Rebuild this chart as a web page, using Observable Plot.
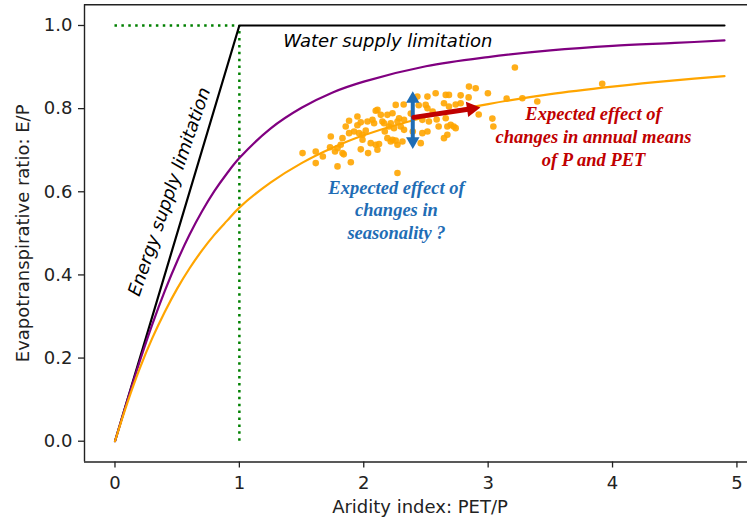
<!DOCTYPE html>
<html>
<head>
<meta charset="utf-8">
<script src="https://cdn.jsdelivr.net/npm/d3@7"></script>
<script src="https://cdn.jsdelivr.net/npm/@observablehq/plot@0.6"></script>
<style>
  html, body { margin: 0; padding: 0; background: #fff; }
</style>
</head>
<body>
<div id="chart"></div>
<script>
// Axis ticks
const xTicks = [0, 1, 2, 3, 4, 5];
const yTicks = [0, 0.2, 0.4, 0.6, 0.8, 1.0];

// Budyko-type curves E/P as a function of aridity index PET/P
const aridity  = [0, 0.1, 0.2, 0.3, 0.4, 0.5, 0.6, 0.7, 0.8, 0.9, 1.0, 1.25, 1.5, 1.75, 2.0, 2.5, 3.0, 3.5, 4.0, 4.5, 4.9];
const curveUpper = [0, 0.099, 0.193, 0.281, 0.361, 0.433, 0.497, 0.553, 0.602, 0.644, 0.681, 0.752, 0.802, 0.839, 0.865, 0.902, 0.924, 0.940, 0.951, 0.958, 0.964];
const curveLower = [0, 0.093, 0.176, 0.248, 0.311, 0.367, 0.416, 0.459, 0.497, 0.530, 0.562, 0.622, 0.669, 0.706, 0.736, 0.780, 0.811, 0.835, 0.853, 0.868, 0.878];

// Energy and water supply limits
const limitX = [0, 1, 4.9];
const limitY = [0, 1, 1];

// Catchments (aridity index, evaporative ratio)
const catchX = [1.508, 1.614, 1.614, 1.729, 1.769, 1.789, 1.815, 1.829, 1.839, 1.789, 1.896,
  1.829, 1.882, 1.882, 1.949, 1.922, 1.962, 1.990, 2.016, 1.990,
  2.030, 2.070, 2.083, 2.096, 2.137, 2.150, 2.163,
  2.056, 2.096, 2.123, 2.110, 2.035,
  2.257, 2.321, 2.431, 2.512, 2.578, 2.659, 2.685, 2.846, 2.900,
  2.498, 2.512, 2.645, 2.685, 2.779,
  2.190, 2.231, 2.284, 2.324,
  2.471, 2.524, 2.659, 2.699, 2.739,
  2.203, 2.243, 2.297, 2.324,
  2.471, 2.512, 2.672, 2.645,
  2.231, 2.271, 2.311, 2.458,
  2.271,
  3.215, 2.998, 3.149, 3.275, 3.395, 3.917,
  2.924, 3.034, 3.042,
  2.779, 2.672, 2.723,
  2.190, 2.217, 2.257,
  2.110, 2.217, 2.271,
  1.949, 1.855, 1.735, 1.976, 1.671,
  2.378, 2.554, 2.602, 2.394,
  2.843, 2.739, 2.169, 1.976, 2.442, 2.586];
const catchY = [0.693, 0.697, 0.669, 0.707, 0.697, 0.705, 0.713, 0.693, 0.690, 0.661, 0.671,
  0.729, 0.741, 0.771, 0.781, 0.745, 0.741, 0.737, 0.747, 0.725,
  0.769, 0.773, 0.765, 0.795, 0.785, 0.769, 0.765,
  0.717, 0.713, 0.715, 0.701, 0.693,
  0.809, 0.810, 0.829, 0.829, 0.837, 0.833, 0.833, 0.853, 0.849,
  0.809, 0.801, 0.813, 0.805, 0.813,
  0.785, 0.789, 0.777, 0.773,
  0.773, 0.769, 0.777, 0.761, 0.753,
  0.757, 0.753, 0.757, 0.749,
  0.741, 0.745, 0.737, 0.729,
  0.725, 0.713, 0.721, 0.717,
  0.645,
  0.899, 0.837, 0.824, 0.825, 0.817, 0.860,
  0.786, 0.776, 0.757,
  0.832, 0.757, 0.757,
  0.729, 0.721, 0.723,
  0.797, 0.765, 0.769,
  0.760, 0.757, 0.733, 0.702, 0.685,
  0.788, 0.793, 0.757, 0.745,
  0.827, 0.810, 0.745, 0.767, 0.808, 0.774];

// Arrows: seasonality (vertical) and annual means (shift along the curve)
const seasonArrow = [{x1: 2.394, y1: 0.703, x2: 2.394, y2: 0.842}];
const meansArrow  = [{x1: 2.402, y1: 0.779, x2: 2.938, y2: 0.803}];

// Annotations
const waterNote  = [{x: 1.352, y: 0.961, text: "Water supply limitation"}];
const energyNote = [{x: 0.438, y: 0.600, text: "Energy supply limitation"}];
const seasonNote = [{x: 2.263, y: 0.634, text: "Expected effect of\nchanges in\nseasonality ?"}];
const meansNote  = [{x: 3.847, y: 0.810, text: "Expected effect of\nchanges in annual means\nof P and PET"}];
const xLabel = "Aridity index: PET/P";
const yLabel = "Evapotranspirative ratio: E/P";

// Layout
const W = 747, H = 522;
const mL = 84, mR = 0, mT = 4.2, mB = 60.5;
const xDomain = [-0.245, 5.085];
const yDomain = [-0.05, 1.05];

const curves = aridity.map((x, i) => ({x, upper: curveUpper[i], lower: curveLower[i]}));
const limits = limitX.map((x, i) => ({x, y: limitY[i]}));
const catchments = catchX.map((x, i) => ({x, y: catchY[i]}));

// Pixel mapping used to orient the filled arrowheads
const px = d3.scaleLinear(xDomain, [mL, W - mR]);
const py = d3.scaleLinear(yDomain, [H - mB, mT]);
const ma = meansArrow[0];
const mAngle = Math.atan2(py(ma.y2) - py(ma.y1), px(ma.x2) - px(ma.x1)); // radians, screen space
const headR = 5, meansHeadR = 5.8;
const tipOffset = r => 2 * Math.sqrt(Math.PI * r * r / (3 * Math.sqrt(3)));

const blue = "#1f6db5";
const red = "#c00000";
const ink = "#222";
const serifNote = {fontFamily: "'Liberation Serif', 'DejaVu Serif', serif", fontWeight: "bold", fontStyle: "italic", fontSize: 18.5, lineHeight: 1.22, lineAnchor: "top", textAnchor: "middle"};

const chart = Plot.plot({
  width: W,
  height: H,
  marginLeft: mL,
  marginRight: mR,
  marginTop: mT,
  marginBottom: mB,
  x: {domain: xDomain},
  y: {domain: yDomain},
  style: {fontFamily: "'DejaVu Sans', sans-serif", fontSize: "18px", color: ink, background: "#fff"},
  marks: [
    // frame (left, top, bottom)
    Plot.ruleY([yDomain[1]], {stroke: ink, strokeWidth: 1.4}),
    Plot.ruleY([yDomain[0]], {stroke: ink, strokeWidth: 1.4}),
    Plot.ruleX([xDomain[0]], {stroke: ink, strokeWidth: 1.4}),
    Plot.axisX(xTicks, {tickSize: 6, tickPadding: 8, label: null, tickFormat: d3.format("d"), stroke: ink, strokeWidth: 1.3}),
    Plot.axisY(yTicks, {tickSize: 6, tickPadding: 6, label: null, tickFormat: d3.format(".1f"), stroke: ink, strokeWidth: 1.3}),
    Plot.text([xLabel], {frameAnchor: "bottom", dy: 45.5, dx: 4, textAnchor: "middle", lineAnchor: "middle", fill: ink}),
    Plot.text([yLabel], {frameAnchor: "left", dx: -61, rotate: -90, textAnchor: "middle", lineAnchor: "middle", fill: ink}),

    // energy / water limits (dotted guides at PET/P = 1 and E/P = 1)
    Plot.ruleY([1], {x1: 0, x2: 1, stroke: "green", strokeWidth: 2.5, strokeDasharray: "2.5 4.4"}),
    Plot.ruleX([1], {y1: 0, y2: 1, stroke: "green", strokeWidth: 2.5, strokeDasharray: "2.5 4.4"}),
    Plot.line(limits, {x: "x", y: "y", stroke: "black", strokeWidth: 2.2}),

    // Budyko curves
    Plot.line(curves, {x: "x", y: "upper", stroke: "purple", strokeWidth: 2.2, curve: "catmull-rom"}),
    Plot.line(curves, {x: "x", y: "lower", stroke: "orange", strokeWidth: 2.2, curve: "catmull-rom"}),

    // catchments
    Plot.dot(catchments, {x: "x", y: "y", r: 3.3, fill: "orange", fillOpacity: 0.9, stroke: "none"}),

    // seasonality arrow (double-headed)
    Plot.arrow(seasonArrow, {x1: "x1", y1: "y1", x2: "x2", y2: "y2", stroke: blue, strokeWidth: 4, headLength: 0, insetStart: 6, insetEnd: 6}),
    Plot.dot(seasonArrow, {x: "x2", y: "y2", symbol: "triangle", r: headR, fill: blue, stroke: "none", dy: tipOffset(headR)}),
    Plot.dot(seasonArrow, {x: "x1", y: "y1", symbol: "triangle", r: headR, fill: blue, stroke: "none", rotate: 180, dy: -tipOffset(headR)}),

    // annual-means arrow
    Plot.arrow(meansArrow, {x1: "x1", y1: "y1", x2: "x2", y2: "y2", stroke: red, strokeWidth: 5, headLength: 0, insetEnd: 9}),
    Plot.dot(meansArrow, {x: "x2", y: "y2", symbol: "triangle", r: meansHeadR, fill: red, stroke: "none",
      rotate: 90 + mAngle * 180 / Math.PI,
      dx: -tipOffset(meansHeadR) * Math.cos(mAngle), dy: -tipOffset(meansHeadR) * Math.sin(mAngle)}),

    // annotations
    Plot.text(waterNote, {x: "x", y: "y", text: "text", textAnchor: "start", lineAnchor: "middle", fontStyle: "italic", fontSize: 18, fill: "black"}),
    Plot.text(energyNote, {x: "x", y: "y", text: "text", rotate: -71, textAnchor: "middle", lineAnchor: "middle", fontStyle: "italic", fontSize: 18, fill: "black"}),
    Plot.text(seasonNote, {x: "x", y: "y", text: "text", fill: blue, ...serifNote}),
    Plot.text(meansNote, {x: "x", y: "y", text: "text", fill: red, ...serifNote})
  ]
});

document.getElementById("chart").append(chart);
</script>
</body>
</html>
